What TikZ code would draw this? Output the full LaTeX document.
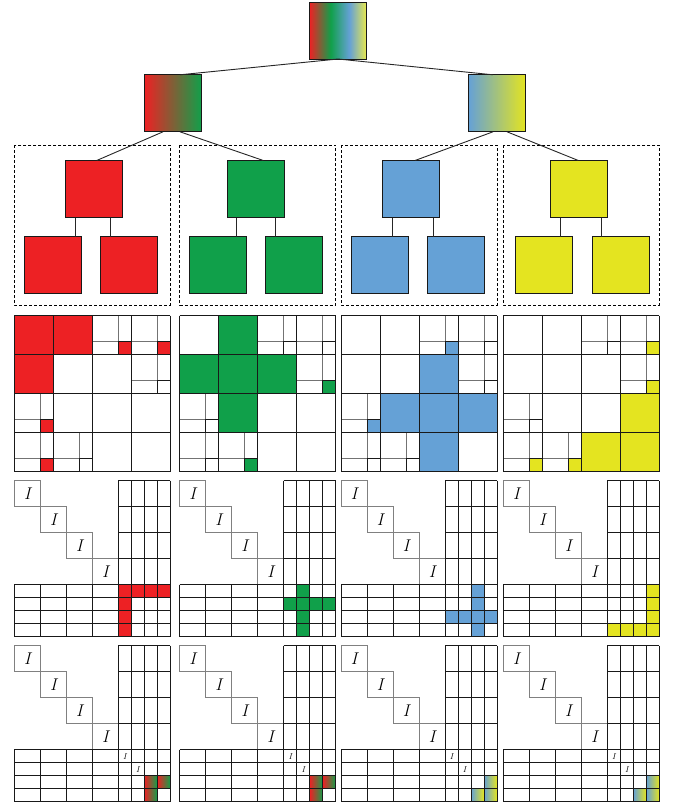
\documentclass[tikz,border=0pt]{standalone}
\usetikzlibrary{calc}
\definecolor{cR}{RGB}{237,33,36}
\definecolor{cG}{RGB}{16,160,74}
\definecolor{cB}{RGB}{101,161,214}
\definecolor{cY}{RGB}{228,228,32}
\pgfdeclarehorizontalshading{rgbyshade}{100bp}{color(0bp)=(cR); color(25bp)=(cR); color(43.5bp)=(cG); color(60bp)=(cB); color(75bp)=(cY!80!white); color(100bp)=(cY!80!white)}
\tikzset{
  tnode/.style={draw=black!90, line width=1pt, minimum size=57pt, inner sep=0pt, outer sep=0pt},
  edge/.style={draw=black!85, line width=0.9pt},
  panelbox/.style={draw=black, line width=0.9pt, dash pattern=on 3pt off 2pt},
  gridline/.style={draw=black!90, line width=1pt},
  splitline/.style={draw=black!55, line width=1pt},
  iline/.style={draw=black!50, line width=1pt},
  ilabel/.style={font=\fontsize{17}{17}\selectfont\itshape, inner sep=0pt},
  smalllabel/.style={font=\fontsize{8.5}{8.5}\selectfont\itshape, inner sep=0pt}
}
% quadtree-like matrix: X, Y, colour, full blocks, separator blocks
\newcommand\QTMat[5]{%
  \foreach \r/\c in {#4} \fill[#3] (#1+\c*39,#2+\r*39) rectangle ++(39,39);
  \foreach \r/\c in {#5} \fill[#3] (#1+\c*39+26,#2+\r*39+26) rectangle ++(13,13);
  \foreach \r/\c in {0/2,0/3,1/3,2/0,3/0,3/1}{
    \draw[splitline] (#1+\c*39+26,#2+\r*39) -- ++(0,39) (#1+\c*39,#2+\r*39+26) -- ++(39,0);
    \draw[gridline] (#1+\c*39+26,#2+\r*39+26) rectangle ++(13,13);}
  \foreach \i in {0,...,4}{
    \draw[gridline] (#1+\i*39,#2) -- ++(0,156);
    \draw[gridline] (#1,#2+\i*39) -- ++(156,0);}
}
% permuted matrix lines: X, Y, name prefix
\newcommand\PMat[3]{%
  \foreach \i in {0,...,3}{
    \draw[iline] (#1+\i*26,#2+\i*26) rectangle ++(26,26);
    \node[ilabel] (#3-I\i) at (#1+\i*26+13,#2+\i*26+13) {I};}
  \foreach \x in {104,117,130,143,156} \draw[gridline] (#1+\x,#2) -- ++(0,156);
  \foreach \y in {26,52,78} \draw[gridline] (#1+104,#2+\y) -- ++(52,0);
  \foreach \y in {104,117,130,143,156} \draw[gridline] (#1,#2+\y) -- ++(156,0);
  \foreach \x in {0,26,52,78} \draw[gridline] (#1+\x,#2+104) -- ++(0,52);
  \draw[gridline] (#1+104,#2) -- ++(52,0);
}
% fill row k and column k of the small block
\newcommand\PFill[4]{%
  \foreach \j in {0,...,3}{
    \fill[#3] (#1+104+\j*13,#2+104+#4*13) rectangle ++(13,13);
    \fill[#3] (#1+104+#4*13,#2+104+\j*13) rectangle ++(13,13);}
}
\begin{document}
\begin{tikzpicture}[x=1pt,y=-1pt]
\useasboundingbox (0,0) rectangle (675,806);
% tree top
\node[tnode, shading=rgbyshade] (root) at (338,30.5) {};
\node[tnode, left color=cR, right color=cG] (L2a) at (173,103.3) {};
\node[tnode, left color=cB, right color=cY] (L2b) at (497,103.3) {};
\draw[edge] (root.south) -- ([xshift=7pt]L2a.north);
\draw[edge] (root.south) -- ([xshift=-4pt]L2b.north);
% panels
\foreach \k/\L/\tx/\blx/\brx/\va/\vb/\col in {1/14.3/93.7/52.85/128.65/75/110/cR, 2/179.7/255.7/217.65/293.65/236.7/275/cG, 3/341/411.3/379.7/455.8/392.3/433.3/cB, 4/503.3/579.3/544.3/620.5/560.7/601.7/cY}{
  \draw[panelbox] (\L,145) rectangle ++(156,160);
  \node[tnode, fill=\col] (t\k) at (\tx,189) {};
  \node[tnode, fill=\col] (bl\k) at (\blx,265.3) {};
  \node[tnode, fill=\col] (br\k) at (\brx,265.3) {};
  \pgfmathsetmacro\sa{\va-\tx}\pgfmathsetmacro\sb{\va-\blx}
  \pgfmathsetmacro\sc{\vb-\tx}\pgfmathsetmacro\sd{\vb-\brx}
  \draw[edge] ([xshift=\sa pt]t\k.south) -- ([xshift=\sb pt]bl\k.north);
  \draw[edge] ([xshift=\sc pt]t\k.south) -- ([xshift=\sd pt]br\k.north);
}
\draw[edge] ([xshift=-10pt]L2a.south) -- ([xshift=3pt]t1.north);
\draw[edge] ([xshift=7pt]L2a.south) -- ([xshift=7.6pt]t2.north);
\draw[edge] ([xshift=-4pt]L2b.south) -- ([xshift=3.7pt]t3.north);
\draw[edge] ([xshift=10pt]L2b.south) -- ([xshift=-1pt]t4.north);
% row 1 matrices
\QTMat{14.3}{315.7}{cR}{0/0,0/1,1/0}{0/2,0/3,2/0,3/0}
\QTMat{179.7}{315.7}{cG}{0/1,1/0,1/1,1/2,2/1}{1/3,3/1}
\QTMat{341}{315.7}{cB}{1/2,2/1,2/2,2/3,3/2}{0/2,2/0}
\QTMat{503.3}{315.7}{cY}{2/3,3/2,3/3}{0/3,1/3,3/0,3/1}
% row 2 matrices
\PFill{14.3}{480.7}{cR}{0}
\PFill{179.7}{480.7}{cG}{1}
\PFill{341}{480.7}{cB}{2}
\PFill{503.3}{480.7}{cY}{3}
\foreach \X/\n in {14.3/a1,179.7/a2,341/a3,503.3/a4}{\PMat{\X}{480.7}{\n}}
% row 3 matrices
\foreach \X in {14.3,179.7}{
  \foreach \r/\c in {2/2,2/3,3/2}
    \shade[left color=cR, right color=cG] (\X+104+\c*13,645.7+104+\r*13) rectangle ++(13,13);}
\foreach \X in {341,503.3}{
  \foreach \r/\c in {2/3,3/2,3/3}
    \shade[left color=cB, right color=cY] (\X+104+\c*13,645.7+104+\r*13) rectangle ++(13,13);}
\foreach \X/\n in {14.3/b1,179.7/b2,341/b3,503.3/b4}{
  \PMat{\X}{645.7}{\n}
  \node[smalllabel] (\n-s0) at (\X+110.5,645.7+110.5) {I};
  \node[smalllabel] (\n-s1) at (\X+123.5,645.7+123.5) {I};
}
\end{tikzpicture}
\end{document}
